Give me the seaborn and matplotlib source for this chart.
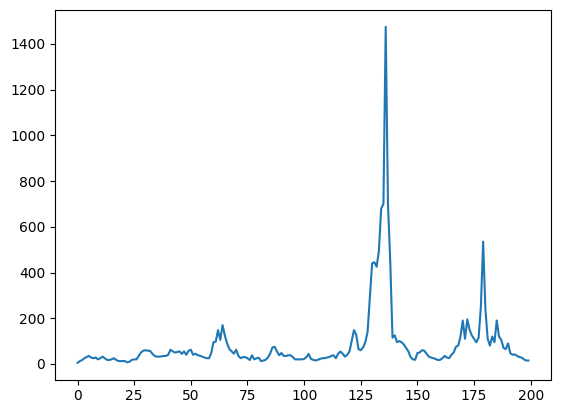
import numpy as np
import pandas as pd
import seaborn as sns
import matplotlib.pyplot as plt

# Values, index 0..199
vals_0_49 = [5, 12, 17, 25, 30, 35, 28, 25, 28, 20,
             25, 32, 25, 18, 17, 20, 25, 18, 13, 12,
             13, 12, 7, 10, 18, 20, 20, 35, 50, 58,
             60, 58, 57, 45, 35, 32, 32, 33, 35, 35,
             40, 62, 55, 50, 52, 55, 44, 55, 40, 58]
vals_50_99 = [62, 40, 45, 38, 36, 32, 28, 25, 25, 47,
              95, 98, 148, 105, 170, 125, 90, 65, 55, 45,
              62, 35, 25, 30, 30, 25, 17, 38, 20, 25,
              27, 12, 15, 18, 28, 45, 72, 75, 55, 38,
              48, 35, 35, 38, 38, 30, 20, 20, 20, 20]
vals_100_149 = [22, 30, 44, 22, 18, 15, 18, 22, 25, 25,
                28, 30, 35, 38, 25, 45, 54, 45, 32, 40,
                54, 100, 148, 127, 65, 60, 72, 95, 140, 290,
                440, 445, 425, 495, 680, 700, 1475, 700, 450, 115,
                125, 95, 100, 95, 85, 70, 55, 30, 20, 18]
vals_150_199 = [48, 50, 60, 58, 45, 32, 28, 25, 22, 17,
                18, 25, 35, 28, 25, 40, 50, 75, 80, 120,
                190, 110, 195, 150, 125, 110, 95, 115, 250, 535,
                240, 110, 80, 120, 95, 190, 120, 105, 70, 65,
                90, 47, 40, 42, 35, 30, 28, 20, 15, 15]

values = vals_0_49 + vals_50_99 + vals_100_149 + vals_150_199
df = pd.DataFrame({'x': np.arange(len(values)), 'y': values})

# Set up the figure (plain matplotlib look)
fig = plt.figure(figsize=(5.61, 4.13), dpi=100)
ax = fig.add_axes([55 / 561, 33.4 / 413, 496 / 561, 369.6 / 413])

sns.lineplot(data=df, x='x', y='y', ax=ax, color='#1f77b4', linewidth=1.5)

ax.set_xlabel('')
ax.set_ylabel('')
ax.set_xticks([0, 25, 50, 75, 100, 125, 150, 175, 200])
ax.set_yticks([0, 200, 400, 600, 800, 1000, 1200, 1400])

fig.savefig('out.png', dpi=100)
